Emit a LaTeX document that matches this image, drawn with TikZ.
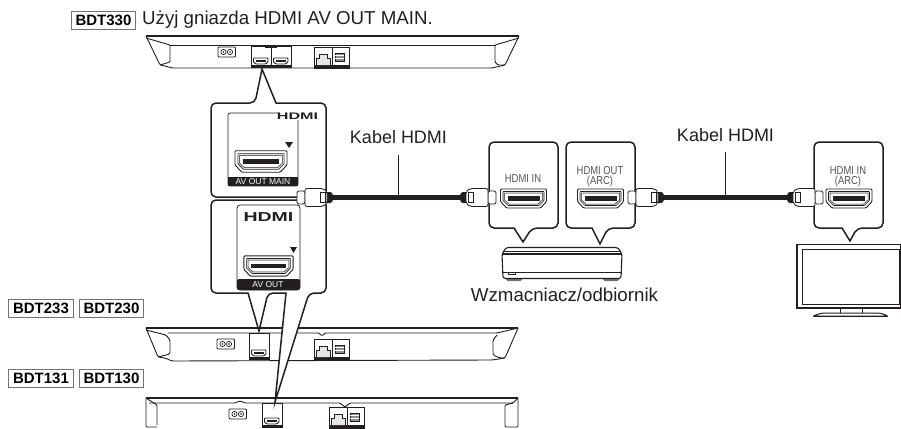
\documentclass[tikz,border=0pt]{standalone}
\usepackage{fontspec}
\setmainfont{Liberation Sans}
\usetikzlibrary{calc}
\definecolor{inkblack}{HTML}{231F20}
\definecolor{portgray}{HTML}{555555}
\tikzset{
	rearline/.style={line width=0.9pt, color=inkblack},
	callout/.style={line width=1.5pt, color=inkblack, fill=white, rounded corners=5pt},
	labeltext/.style={font=\fontsize{18}{20}\selectfont, color=inkblack, inner sep=0pt},
	widetext/.style={font=\fontsize{18.7}{20}\selectfont, color=inkblack, inner sep=0pt},
	badge/.style={draw=black!55, line width=0.6pt, fill=white, font=\fontsize{15}{17}\selectfont\bfseries, minimum width=64.5pt, minimum height=18pt, inner sep=0pt},
	jacktext/.style={font=\fontsize{11.5}{12}\selectfont, color=portgray, inner sep=0pt, xscale=0.82, transform shape},
	bandtext/.style={font=\fontsize{8.5}{10}\selectfont, color=white, inner sep=0pt},
	logotext/.style={font=\bfseries, color=inkblack, inner sep=0pt, transform shape}
}
% #1,#2 centre, #3 size
\def\hdmiport(#1,#2,#3){
	\begin{scope}[shift={(#1,#2)}, scale=#3]
		\draw[line width=0.9pt, color=inkblack, fill=white, rounded corners=1pt] (-23,-9.5) -- (23,-9.5) -- (23,3) -- (17,9.5) -- (-17,9.5) -- (-23,3) -- cycle;
		\draw[line width=0.6pt, color=inkblack, fill=black!12, rounded corners=0.5pt] (-20.5,-7) -- (20.5,-7) -- (20.5,2) -- (15.5,7) -- (-15.5,7) -- (-20.5,2) -- cycle;
		\draw[line width=0.5pt, color=inkblack, fill=white] (-19,-5.5) -- (19,-5.5) -- (19,1.5) -- (14.5,5.5) -- (-14.5,5.5) -- (-19,1.5) -- cycle;
		\fill[inkblack] (-16,-2.2) rectangle (16,2);
	\end{scope}
}
% #1,#2 cable end, #3 is 1 or -1 for the side the head points to
\def\hdmiplug(#1,#2,#3){
	\begin{scope}[shift={(#1,#2)}, xscale=#3]
		\fill[inkblack, rounded corners=1pt] (0,-3) -- (2,-5.5) -- (7,-5.5) -- (7,5.5) -- (2,5.5) -- (0,3) -- cycle;
		\draw[line width=0.8pt, color=inkblack, fill=white, rounded corners=1.5pt] (28,-6.5) rectangle (36,6.5);
		\draw[line width=0.8pt, color=inkblack, fill=white, rounded corners=2pt] (6,-6) -- (10,-9) -- (28,-9) -- (28,9) -- (10,9) -- (6,6) -- cycle;
		\draw[line width=0.7pt, color=inkblack, fill=white] (8,-5) rectangle (13,5);
	\end{scope}
}
\def\acinlet(#1,#2){
	\begin{scope}[shift={(#1,#2)}]
		\draw[line width=0.8pt, color=inkblack, rounded corners=1pt] (0,0) rectangle (17.5,10);
		\draw[line width=0.7pt, color=inkblack] (5.5,5) circle (2.6) (12,5) circle (2.6);
		\fill[inkblack] (5.5,5) circle (0.8) (12,5) circle (0.8);
	\end{scope}
}
% #1,#2 lower left corner
\def\rearhdmi(#1,#2){
	\begin{scope}[shift={(#1,#2)}]
		\fill[inkblack] (0,-3) rectangle (20,0);
		\draw[line width=0.9pt, color=inkblack, fill=white, rounded corners=0.7pt] (2.5,-10) -- (17,-10) -- (17,-6) -- (14.5,-4) -- (5,-4) -- (2.5,-6) -- cycle;
		\fill[inkblack] (4.5,-8.2) rectangle (15,-6.2);
	\end{scope}
}
\def\rearlan(#1,#2){
	\begin{scope}[shift={(#1,#2)}]
		\draw[line width=0.8pt, color=inkblack] (0,0) rectangle (18,-21);
		\draw[line width=0.8pt, color=inkblack] (18,0) rectangle (35,-21);
		\fill[inkblack] (0,-3) rectangle (35,0);
		\draw[line width=0.8pt, color=inkblack, fill=black!10] (2,-3) -- (2,-10) -- (5,-10) -- (5,-14) -- (13,-14) -- (13,-10) -- (16,-10) -- (16,-3);
		\draw[line width=0.8pt, color=inkblack, fill=black!45] (21,-15) rectangle (30,-7);
		\draw[line width=0.5pt, color=white] (21,-12.5) -- (30,-12.5) (21,-9.5) -- (30,-9.5);
	\end{scope}
}

\begin{document}
\begin{tikzpicture}[x=1pt, y=-1pt]
	%%%%% START %%%%%
	\useasboundingbox (0,0) rectangle (901,428);

	% top player
	\draw[line width=1.4pt, color=inkblack, rounded corners=1pt] (146,36) -- (519,36);
	\draw[rearline, rounded corners=1.5pt] (146,36) -- (160,65) -- (165,66) -- (172,68) -- (492,68) -- (505,65) -- (519,36);
	\draw[rearline, rounded corners=1pt] (146,38) -- (170,45) -- (170,62) -- (160,65);
	\draw[rearline] (170,45) -- (495,45);
	\draw[rearline, rounded corners=1pt] (519,38) -- (495,45) -- (495,62) -- (498,65) -- (505,65);
	\acinlet(218,47);
	\draw[rearline] (251,68) -- (251,46) -- (291,46) -- (291,68);
	\draw[rearline] (271,46) -- (271,68);
	\fill[inkblack] (265,46) rectangle (277,48);
	\rearhdmi(251,68);
	\rearhdmi(271,68);
	\rearlan(314,68);

	% second player
	\draw[line width=1.2pt, color=inkblack] (146,328) -- (518,328);
	\draw[rearline, rounded corners=1.5pt] (146,328) -- (158,357) -- (165,358) -- (172,361) -- (492,360) -- (505,358) -- (518,328);
	\draw[rearline, rounded corners=1.5pt] (146,330) -- (166,335) -- (170,340) -- (170,354) -- (158,357);
	\draw[rearline, rounded corners=1pt] (168,333) -- (314,333) -- (319,333) -- (322,336) -- (325,333) -- (497,333) -- (518,328);
	\draw[rearline, rounded corners=1.5pt] (497,335) -- (493,340) -- (493,355) -- (500,358) -- (505,358);
	\acinlet(217,339);
	\draw[rearline] (249,360) -- (249,333) -- (269,333) -- (269,360);
	\rearhdmi(249,360);
	\rearlan(314,360);

	% third player
	\draw[line width=1.2pt, color=inkblack] (146,398) -- (518,398);
	\draw[rearline, rounded corners=1pt] (149,403) -- (235,403) -- (240,401) -- (245,403) -- (340,403) -- (345,407) -- (350,403) -- (513,403) -- (518,398);
	\draw[rearline, rounded corners=1pt] (146,398) -- (146,427) -- (157,427);
	\draw[rearline, rounded corners=1pt] (146,398) -- (157,405) -- (157,425);
	\draw[rearline, rounded corners=1pt] (518,398) -- (518,427) -- (505,427) -- (505,405) -- (513,403);
	\acinlet(229,409);
	\draw[rearline] (262,428) -- (262,403) -- (282,403) -- (282,428);
	\rearhdmi(262,428);
	\rearlan(329,428);

	% callouts
	\draw[callout] (211,197) -- (211,103) -- (255,103) [sharp corners] -- (262,69) -- (276,103) [rounded corners=5pt] -- (326,103) -- (326,197) -- cycle;
	\draw[callout] (211,200) -- (326,200) -- (326,293) -- (309,293) [sharp corners] -- (275,402) -- (286,293) [rounded corners=5pt] -- (268,293) [sharp corners] -- (259,331) -- (248,293) [rounded corners=5pt] -- (211,293) -- cycle;

	\draw[line width=0.8pt, color=inkblack, rounded corners=2pt] (298,120) -- (298,186) -- (228,186) -- (228,113) -- (278,113);
	\fill[inkblack] (228,177) rectangle (298,186);
	\node[bandtext] (avoutmain) at (263,181.7) {AV OUT MAIN};
	\node[logotext, xscale=1.7, font=\fontsize{9.5}{10}\selectfont\bfseries] (logotop) at (297.5,116.5) {HDMI};
	\fill[inkblack] (285,142) -- (293,142) -- (289,148) -- cycle;
	\hdmiport(261,161.5,1.13);

	\draw[line width=0.8pt, color=inkblack, fill=white, rounded corners=3pt] (237,290) -- (237,205) -- (300,205) -- (300,290) -- cycle;
	\fill[inkblack, rounded corners=2pt] (237,279) rectangle (300,290);
	\node[bandtext] (avout) at (268,285) {AV OUT};
	\node[logotext, xscale=1.5, font=\fontsize{13}{14}\selectfont\bfseries] (logobottom) at (268.5,217.5) {HDMI};
	\fill[inkblack] (290,247) -- (297,247) -- (293.5,253) -- cycle;
	\hdmiport(268.5,266,1.07);

	\draw[callout] (489,228) -- (489,142) -- (558,142) -- (558,228) -- (532,228) [sharp corners] -- (523,242) -- (514,228) [rounded corners=5pt] -- cycle;
	\draw[callout] (566,228) -- (566,142) -- (635,142) -- (635,228) -- (608,228) [sharp corners] -- (600,244) -- (592,228) [rounded corners=5pt] -- cycle;
	\draw[callout] (814,228) -- (814,142) -- (883,142) -- (883,228) -- (857,228) [sharp corners] -- (850,241) -- (842,228) [rounded corners=5pt] -- cycle;

	\node[jacktext] (jackin) at (523,179) {HDMI IN};
	\node[jacktext] (jackout) at (600,171) {HDMI OUT};
	\node[jacktext] (jackoutarc) at (600,182) {(ARC)};
	\node[jacktext] (jacktv) at (848,171) {HDMI IN};
	\node[jacktext] (jacktvarc) at (848,182) {(ARC)};
	\hdmiport(523.5,198.5,1);
	\hdmiport(600.5,198.5,1);
	\hdmiport(849,198.5,1);

	% cables
	\coordinate (cableonea) at (332,197.5);
	\coordinate (cableoneb) at (461,197.5);
	\coordinate (cabletwoa) at (664,197.5);
	\coordinate (cabletwob) at (787,197.5);
	\draw[line width=4.5pt, color=inkblack] (cableonea) -- (cableoneb);
	\draw[line width=4.5pt, color=inkblack] (cabletwoa) -- (cabletwob);
	\hdmiplug(333,197.5,-1);
	\hdmiplug(460,197.5,1);
	\hdmiplug(664,197.5,-1);
	\hdmiplug(787,197.5,1);

	% amplifier
	\fill[black!55, rounded corners=1.5pt] (506,276) rectangle (522,281) (603,276) rectangle (619,281);
	\draw[line width=1.1pt, color=inkblack, fill=white, rounded corners=2.5pt] (503,278.5) -- (502,254) -- (506,247.5) -- (618,247.5) -- (622,254) -- (621,278.5) -- cycle;
	\draw[line width=0.8pt, color=inkblack] (503,251) -- (621,251);
	\draw[line width=1.1pt, color=inkblack] (503,254) -- (621,254);
	\draw[line width=0.8pt, color=inkblack] (503,272) -- (621,272);
	\draw[line width=0.6pt, color=inkblack] (508,272) rectangle (515,274);

	% tv
	\draw[line width=1.1pt, color=inkblack] (797,308) -- (797,244.5) -- (900.5,244.5) -- (900.5,308) -- cycle;
	\draw[line width=0.9pt, color=inkblack] (802.5,304) -- (802.5,249) -- (899,249) -- (899,304) -- cycle;
	\draw[line width=0.8pt, color=inkblack] (840,308) -- (840,313) (862,308) -- (862,313);
	\draw[line width=1pt, color=inkblack, rounded corners=2pt] (840,313) -- (822,313) -- (813,316) -- (888,316) -- (880,313) -- (862,313) -- cycle;
	\draw[line width=1.5pt, color=inkblack] (813,316.5) -- (888,316.5);

	% labels
	\node[badge] (modeltop) at (103.5,20) {BDT330};
	\node[widetext, anchor=base west] (headline) at (142,25) {Użyj gniazda HDMI AV OUT MAIN.};
	\node[badge] (modelmida) at (41,308) {BDT233};
	\node[badge] (modelmidb) at (111.5,308) {BDT230};
	\node[badge] (modellowa) at (41,378) {BDT131};
	\node[badge] (modellowb) at (111.5,378) {BDT130};
	\node[labeltext, anchor=base] (kabelone) at (398.5,143) {Kabel HDMI};
	\node[labeltext, anchor=base] (kabeltwo) at (725.5,141) {Kabel HDMI};
	\node[widetext, anchor=base] (receiver) at (564.5,301) {Wzmacniacz/odbiornik};
	\coordinate (leaderone) at (398,197.5);
	\coordinate (leadertwo) at (725,197.5);
	\draw[line width=0.7pt, color=inkblack] (398,155) -- (leaderone);
	\draw[line width=0.7pt, color=inkblack] (725,152) -- (leadertwo);
	%%%%% END %%%%%
\end{tikzpicture}
\end{document}
